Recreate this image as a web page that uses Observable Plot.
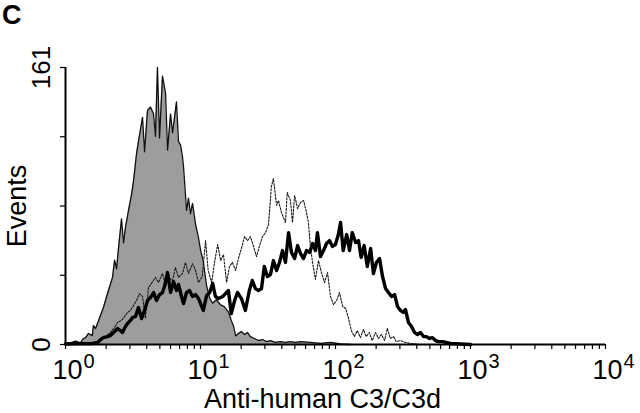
<!DOCTYPE html>
<html>
<head>
<meta charset="utf-8">
<script src="https://cdn.jsdelivr.net/npm/d3@7"></script>
<script src="https://cdn.jsdelivr.net/npm/@observablehq/plot@0.6"></script>
<style>
  html, body { margin: 0; padding: 0; background: #fff; }
  #wrap { position: relative; width: 640px; height: 413px; font-family: "Liberation Sans", Arial, sans-serif; }
  #panel { position: absolute; left: 2px; top: 0px; font-weight: bold; font-size: 27px; line-height: 30px; }
</style>
</head>
<body>
<div id="wrap"><div id="panel">C</div></div>
<script>
// Isotype control (filled gray histogram)
const grayX = [1.00,1.09,1.19,1.29,1.36,1.41,1.48,1.58,1.61,1.67,1.76,1.91,2.08,2.23,2.31,2.39,2.47,2.60,2.69,2.78,2.93,3.08,3.19,3.36,3.47,3.72,3.85,4.05,4.26,4.49,4.64,4.80,4.97,5.23,5.51,5.70,6.00,6.21,6.64,6.87,7.11,7.36,7.49,7.88,8.15,8.43,8.73,9.19,9.67,10.0,10.5,11.1,11.7,12.3,13.1,14.1,15.0,16.1,16.9,17.6,18.2,19.1,20.1,21.2,22.3,23.4,25.1,26.9,28.8,30.9,33.0,35.9,39.1,42.6,46.4,50.5,55.0,65.2,77.4,91.8,109,129];
const grayY = [0.6,1,2,1,3.5,4,6.4,5.2,11,9.3,14,21.5,31.4,39,49,44,56,73,59,68,78,87,95,111,118,132,112,136,138,134,121,161,120,156,146,113,134,123,141,118,116,109,103,78,85,76,82,70,62,55,48,34,27,24,26,23,22,19,14,10.5,5,6.4,7.5,5.8,7,4.6,3.5,2.3,2.9,1.7,2.3,1.2,1.7,1.2,1.7,1.2,1.7,1.2,0.6,1.2,0.3,0];

// Thin dotted histogram
const dotX = [1.00,1.53,1.74,1.82,1.98,2.15,2.31,2.43,2.60,2.74,2.88,3.03,3.19,3.36,3.53,3.72,3.91,4.12,4.33,4.64,4.88,5.23,5.51,5.80,6.21,6.52,6.87,7.36,7.74,8.15,8.73,9.19,9.67,10.3,10.9,11.4,12.1,12.7,13.4,14.1,14.8,15.6,16.4,17.2,18.2,19.1,20.1,21.2,22.3,23.4,24.7,26.0,27.3,28.8,30.3,31.9,33.5,34.7,36.6,37.8,39.8,42.6,43.9,46.4,48.0,49.8,52.4,55.0,58.0,61.0,63.0,65.2,67.6,71.0,74.8,78.7,82.9,87.3,91.8,96.6,102,107,113,119,125,131,138,145,153,161,169,178,187,198,208,219,231,242,255,269,282,303,330,359,426];
const dotY = [0,0.3,1.2,3.5,4.6,7,9.9,12.8,14,16.3,18.6,19.8,22.7,25.6,29.6,27.9,15.1,33.1,35.5,39,36,41.3,34.3,39,37.2,44.8,39,41.3,47.7,41.3,47,43,36,39.5,60.4,43,36,47.7,58.1,48.8,52.3,36,45.3,47.7,43,50,55.8,62.8,60.4,62.8,57,51.1,57,62.8,65,69.7,91.8,96.5,80.8,83.7,76.7,70.9,88.3,83.7,70.9,86.6,79,82.5,83.7,76.7,70.9,57,47.7,37.8,48.8,41.8,36,41.8,27.9,23.2,25.6,30.2,22.1,20.9,15.1,8.1,4.6,8.1,4,8.7,4.6,7,2.3,7,3.5,5.8,2.3,9.3,3.5,4.6,1.7,2.3,1.2,0.6,0];

// Thick black histogram
const thickX = [1.00,1.19,1.41,1.58,1.74,1.82,1.91,2.05,2.15,2.31,2.43,2.55,2.64,2.78,2.88,3.03,3.14,3.30,3.47,3.66,3.85,4.05,4.26,4.49,4.72,4.97,5.23,5.41,5.70,6.00,6.31,6.64,6.87,7.23,7.49,7.88,8.29,8.73,9.19,9.67,10.2,10.5,11.1,11.7,12.3,12.9,13.6,14.6,15.3,16.1,16.9,17.9,18.8,20.1,21.5,23.0,24.2,25.5,26.9,28.3,29.7,31.3,33.0,34.7,36.6,38.5,40.5,42.6,44.9,47.2,49.8,52.4,55.0,58.0,61.0,64.3,67.6,71.0,73.5,77.4,81.5,85.8,90.2,95.0,100,105,109,114,121,127,133,141,148,155,163,172,182,191,201,212,223,235,247,260,274,288,303,318,330,347,366,385,405,426,449,472,497,523,550,579,620,660,710,842,1000];
const thickY = [0.3,0.5,0.5,0.6,1.2,2.9,4,4.6,5.2,7.5,9.3,8.1,7,10.5,12.2,14,15.7,16.3,21.5,15.1,19.8,25.6,27.3,30.2,25.6,29,30.2,33.7,41.8,30.2,36.6,31.4,34.9,27.9,23.8,30.2,31.4,27.9,29,26.7,22.1,19.8,28.5,30.2,35.5,27.9,26.7,27.9,29.6,31.4,18,25.6,30.2,26.7,19.8,31.4,37.2,32.5,31.4,32.5,45.3,39.5,40.7,48.8,43,47.7,54.6,47.7,65,53.5,50,57.5,52.9,50,54.6,53.5,58.7,54.6,65,51.1,54.6,58.7,60.4,57,58.1,63.9,70.9,54.6,63.9,54.6,65,59.3,60.4,50.6,57.5,45.3,55.8,41.3,47.7,50,39.5,32.5,30.2,27.9,29,22.1,19.8,18.6,20.3,12.8,10.5,7,5.8,7,4.6,4.6,3.5,4,2.3,1.7,1.7,1.2,0.6,0.3,0];

const decades = [1, 10, 100, 1000, 10000];
const exponents = ["0", "1", "2", "3", "4"];
const minorTicks = [2,3,4,5,6,7,8,9,20,30,40,50,60,70,80,90,200,300,400,500,600,700,800,900,2000,3000,4000,5000,6000,7000,8000,9000];
const yTicks = [0, 40.25, 80.5, 120.75, 161];
const yLabels = [0, 161];
const xTitle = "Anti-human C3/C3d";
const yTitle = "Events";

const gray = grayX.map((x, i) => ({x, y: grayY[i]}));
const dots = dotX.map((x, i) => ({x, y: dotY[i]}));
const thick = thickX.map((x, i) => ({x, y: thickY[i]}));

const font = '"Liberation Sans", Arial, sans-serif';

const chart = Plot.plot({
  width: 640,
  height: 413,
  marginLeft: 65,
  marginRight: 35,
  marginTop: 67,
  marginBottom: 69,
  style: {fontFamily: font, background: "white", color: "black"},
  x: {type: "log", domain: [1, 10000], axis: null},
  y: {domain: [0, 161], axis: null},
  marks: [
    Plot.areaY(gray, {x: "x", y: "y", fill: "#9d9d9d", curve: "linear"}),
    Plot.lineY(gray, {x: "x", y: "y", stroke: "#111", strokeWidth: 1.3, strokeLinejoin: "round"}),
    Plot.lineY(dots, {x: "x", y: "y", stroke: "#1a1a1a", strokeWidth: 1.1, strokeDasharray: "2,1.5"}),
    Plot.lineY(thick, {x: "x", y: "y", stroke: "#000", strokeWidth: 3.4, strokeLinejoin: "round"}),
    Plot.axisX(decades.concat(minorTicks), {tickSize: 5, tickFormat: () => "", label: null, strokeWidth: 1.2}),
    Plot.axisY(yTicks, {tickSize: 5, tickFormat: () => "", label: null, strokeWidth: 1.2}),
    Plot.ruleY([0], {stroke: "black", strokeWidth: 2}),
    Plot.ruleX([1], {stroke: "black", strokeWidth: 2}),
    Plot.text(decades, {x: d => d, text: () => "10", frameAnchor: "bottom", dy: 34, lineAnchor: "bottom", textAnchor: "middle", dx: 2, fontSize: 27, fill: "black"}),
    Plot.text(decades, {x: d => d, text: (d, i) => exponents[i], frameAnchor: "bottom", dy: 23, lineAnchor: "bottom", textAnchor: "start", dx: 18, fontSize: 20, fill: "black"}),
    Plot.text(yLabels, {y: d => d, text: d => String(d), frameAnchor: "left", dx: -24, rotate: -90, textAnchor: "middle", lineAnchor: "middle", fontSize: 26, fill: "black"}),
    Plot.text([xTitle], {text: d => d, frameAnchor: "bottom", dx: -13, dy: 63, lineAnchor: "bottom", textAnchor: "middle", fontSize: 27, fill: "black"}),
    Plot.text([yTitle], {text: d => d, frameAnchor: "left", dx: -48, rotate: -90, textAnchor: "middle", lineAnchor: "middle", fontSize: 27, fill: "black"})
  ]
});
document.getElementById("wrap").appendChild(chart);
</script>
</body>
</html>
